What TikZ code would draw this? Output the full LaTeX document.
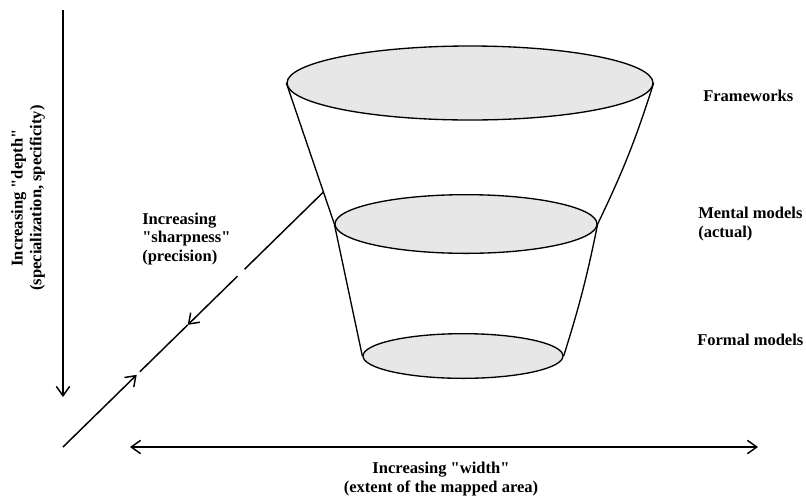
\documentclass[tikz,border=0pt]{standalone}
\usepackage{fontspec}
\setmainfont{Liberation Serif}
\usetikzlibrary{shapes.geometric, arrows.meta, calc}

\definecolor{discfill}{RGB}{231,231,231}
\newcommand{\dq}{\textquotedbl}

\tikzset{
  disc/.style={ellipse, draw, fill=discfill, line width=1pt, inner sep=0pt},
  axis/.style={line width=1.1pt, arrows={-Straight Barb[length=7pt,width=10pt]}},
  lbl/.style={font=\fontsize{12.4}{14}\selectfont\bfseries, inner sep=0pt}
}

\begin{document}
\begin{tikzpicture}[x=0.75pt, y=-0.75pt]
    \useasboundingbox (0,0) rectangle (806,497);

    % funnel
    \node [disc, minimum width=274.5pt, minimum height=55.5pt] (top) at (470,83) {};
    \node [disc, minimum width=196.5pt, minimum height=44pt] (mid) at (466,224) {};
    \node [disc, minimum width=150pt, minimum height=33.5pt] (bot) at (463,356) {};
    \draw [line width=1pt] (top.west) -- (mid.west) -- (bot.west);
    \draw [line width=1pt] (top.east) to[bend left=4] (mid.east) to[bend left=3] (bot.east);

    % axes
    \coordinate (dtop) at (63,10);
    \coordinate (dbot) at (63,397);
    \coordinate (wl) at (130,447);
    \coordinate (wr) at (758,447);
    \coordinate (s0) at (63,447);
    \coordinate (s1) at ($(top.west)!0.773!(mid.west)$);

    \draw [axis] (dtop) -- (dbot);
    \draw [axis, arrows={Straight Barb[length=7pt,width=10pt]-Straight Barb[length=7pt,width=10pt]}] (wl) -- (wr);
    \draw [axis] (s0) -- ($(s0)!0.283!(s1)$);
    \draw [line width=1.1pt] ($(s0)!0.295!(s1)$) -- ($(s0)!0.479!(s1)$);
    \draw [axis, arrows={Straight Barb[length=7pt,width=10pt]-}] ($(s0)!0.479!(s1)$) -- ($(s0)!0.670!(s1)$);
    \draw [line width=1.1pt] ($(s0)!0.697!(s1)$) -- (s1);

    % labels
    \node [lbl, rotate=90, align=center] (depth) at (28,198) {Increasing \dq depth\dq\\(specialization, specificity)};
    \node [lbl, anchor=west, align=left] (sharp) at (142,239) {Increasing\\\dq sharpness\dq\\(precision)};
    \node [lbl, align=center] (width) at (441,479) {Increasing \dq width\dq\\(extent of the mapped area)};
    \node [lbl, anchor=west] (fw) at (703,96) {Frameworks};
    \node [lbl, anchor=west, align=left] (mm) at (698,224) {Mental models\\(actual)};
    \node [lbl, anchor=west] (fm) at (697,340) {Formal models};
\end{tikzpicture}
\end{document}
